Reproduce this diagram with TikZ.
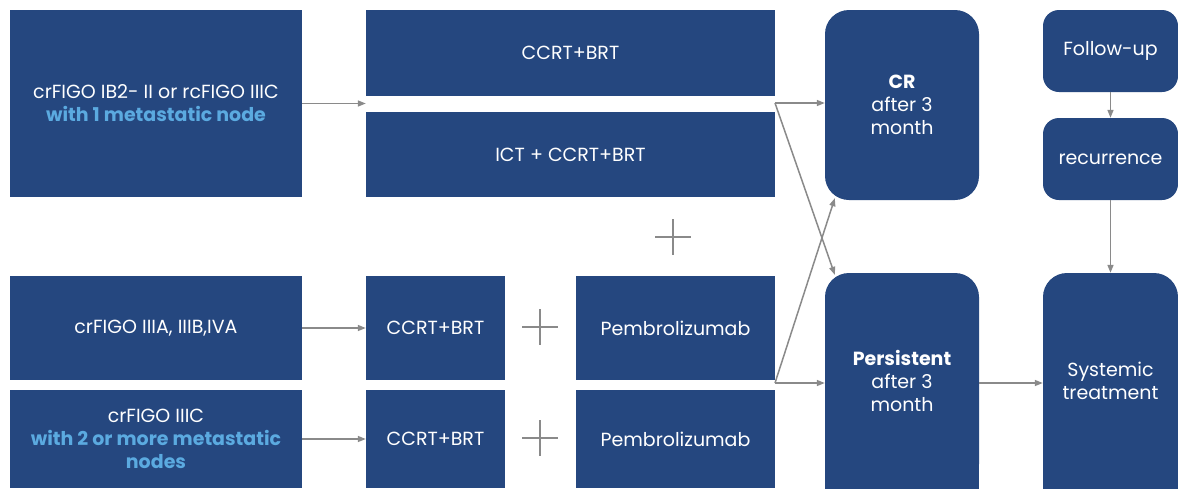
\documentclass[tikz,border=0pt]{standalone}
\usepackage{fontspec}
\setmainfont{Poppins}
\usetikzlibrary{arrows.meta,calc}
\definecolor{boxblue}{HTML}{25477F}
\definecolor{lblue}{HTML}{5BAAE0}
\definecolor{agray}{HTML}{8A8A8A}
\begin{document}
\begin{tikzpicture}[x=1pt,y=-1pt,
  box/.style={fill=boxblue,text=white,inner sep=0pt,align=center,font=\fontsize{19}{23}\selectfont},
  rbox/.style={box,rounded corners=24pt},
  sbox/.style={box,rounded corners=16pt},
  arr/.style={draw=agray,line width=1.5pt,-{Triangle[length=8pt,width=6pt]}},
  plusline/.style={draw=agray,line width=2.2pt}]
\clip (0,0) rectangle (1178,488);
\fill[white] (0,0) rectangle (1178,488);
% left column
\node[box,minimum width=292pt,minimum height=187pt] (a1) at (156,103.5) {crFIGO IB2- II or rcFIGO IIIC\\\textcolor{lblue}{\bfseries with 1 metastatic node}};
\node[box,minimum width=292pt,minimum height=104pt] (a2) at (156,328) {crFIGO IIIA, IIIB,IVA};
\node[box,minimum width=292pt,minimum height=98pt] (a3) at (156,439) {crFIGO IIIC\\\textcolor{lblue}{\bfseries with 2 or more metastatic}\\\textcolor{lblue}{\bfseries nodes}};
% treatments
\node[box,minimum width=409pt,minimum height=86pt] (b1) at (570.5,53) {CCRT+BRT};
\node[box,minimum width=409pt,minimum height=85pt] (b2) at (570.5,154.5) {ICT + CCRT+BRT};
\node[box,minimum width=139pt,minimum height=104pt] (c2) at (435.5,328) {CCRT+BRT};
\node[box,minimum width=139pt,minimum height=98pt] (c3) at (435.5,439) {CCRT+BRT};
\node[box,minimum width=199pt,minimum height=104pt] (d2) at (675.5,328) {Pembrolizumab};
\node[box,minimum width=199pt,minimum height=98pt] (d3) at (675.5,439) {Pembrolizumab};
% plus signs
\draw[plusline] (655,237) -- (691,237) (673,219) -- (673,255);
\draw[plusline] (522,327) -- (558,327) (540,309) -- (540,345);
\draw[plusline] (522,438) -- (558,438) (540,420) -- (540,456);
% outcomes
\node[rbox,minimum width=154pt,minimum height=190pt] (cr) at (902,105) {\textbf{CR}\\after 3\\month};
\node[rbox,minimum width=154pt,minimum height=215pt] (pers) at (902,380.5) {\textbf{Persistent}\\after 3\\month};
\fill[boxblue] (825,440) rectangle (979,500);
\node[sbox,minimum width=135pt,minimum height=82pt] (fu) at (1110.5,51) {Follow-up};
\node[sbox,minimum width=135pt,minimum height=82pt] (rec) at (1110.5,159) {recurrence};
\node[rbox,minimum width=135pt,minimum height=215pt] (sys) at (1110.5,380.5) {Systemic\\treatment};
\fill[boxblue] (1043,440) rectangle (1178,500);
% connectors
\coordinate (j1) at (775,103);
\coordinate (j2) at (775,383);
\draw[arr] (a1.east) -- (a1.east -| b1.west);
\draw[arr] (a2.east) -- (a2.east -| c2.west);
\draw[arr] (a3.east) -- (a3.east -| c3.west);
\draw[arr] (j1) -- (j1 -| cr.west);
\draw[arr] (j1) -- ($(pers.north west)+(10,2)$);
\draw[arr] (j2) -- ($(cr.south west)+(10,-2)$);
\draw[arr] (j2) -- (j2 -| pers.west);
\draw[arr] (pers.east |- j2) -- (j2 -| sys.west);
\draw[arr] (fu.south) -- (rec.north);
\draw[arr] (rec.south) -- (sys.north);
\end{tikzpicture}
\end{document}
